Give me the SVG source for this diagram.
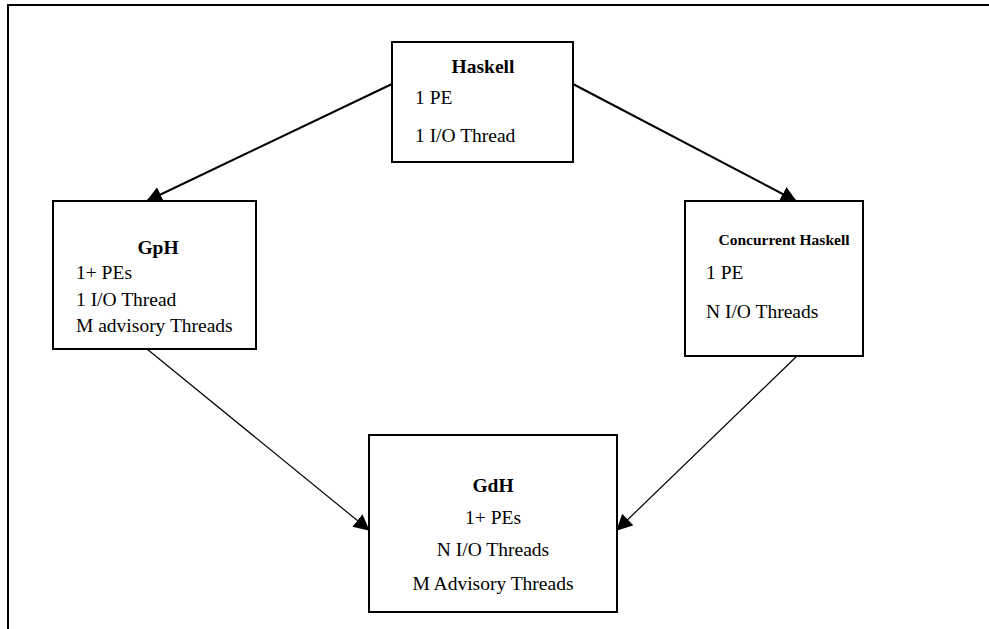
<svg xmlns="http://www.w3.org/2000/svg" width="989" height="629" viewBox="0 0 989 629">
  <style>
    .box { fill: #ffffff; stroke: #000000; stroke-width: 2; }
    .frame { fill: none; stroke: #000000; stroke-width: 2; }
    .title { font-family: "Liberation Serif", "Times New Roman", serif; font-weight: bold; font-size: 19.5px; fill: #000; text-anchor: middle; }
    .title-small { font-family: "Liberation Serif", "Times New Roman", serif; font-weight: bold; font-size: 15.5px; fill: #000; text-anchor: middle; }
    .body { font-family: "Liberation Serif", "Times New Roman", serif; font-size: 19.5px; fill: #000; }
    .body-c { font-family: "Liberation Serif", "Times New Roman", serif; font-size: 19.5px; fill: #000; text-anchor: middle; }
    .edge { fill: none; stroke: #000000; }
    .edge-heavy { stroke-width: 2; }
    .edge-light { stroke-width: 1.2; }
  </style>
  <defs>
    <marker id="arrow" markerUnits="userSpaceOnUse" markerWidth="16" markerHeight="16" viewBox="0 0 16 16" refX="15" refY="8" orient="auto">
      <path d="M0,0 L16,8 L0,16 Z" fill="#000000"/>
    </marker>
  </defs>

  <!-- page frame: top and left rules only -->
  <path class="frame" d="M8,629 L8,5 L989,5"/>

  <!-- connectors -->
  <g id="connectors">
    <line class="edge edge-heavy" x1="392" y1="84" x2="147" y2="201" marker-end="url(#arrow)"/>
    <line class="edge edge-heavy" x1="573" y1="84" x2="796" y2="201" marker-end="url(#arrow)"/>
    <line class="edge edge-light" x1="147" y1="349" x2="369" y2="530" marker-end="url(#arrow)"/>
    <line class="edge edge-light" x1="797" y1="356" x2="617" y2="530" marker-end="url(#arrow)"/>
  </g>

  <!-- Haskell -->
  <g id="haskell">
    <rect class="box" x="392" y="42" width="181" height="120"/>
    <text class="title" x="483" y="73">Haskell</text>
    <text class="body" x="415" y="104">1 PE</text>
    <text class="body" x="415" y="142">1 I/O Thread</text>
  </g>

  <!-- GpH -->
  <g id="gph">
    <rect class="box" x="53" y="201" width="203" height="148"/>
    <text class="title" x="158" y="254">GpH</text>
    <text class="body" x="76" y="279">1+ PEs</text>
    <text class="body" x="76" y="306">1 I/O Thread</text>
    <text class="body" x="76" y="332">M advisory Threads</text>
  </g>

  <!-- Concurrent Haskell -->
  <g id="concurrent-haskell">
    <rect class="box" x="685" y="201" width="178" height="155"/>
    <text class="title-small" x="784" y="245">Concurrent Haskell</text>
    <text class="body" x="706" y="279">1 PE</text>
    <text class="body" x="706" y="318">N I/O Threads</text>
  </g>

  <!-- GdH -->
  <g id="gdh">
    <rect class="box" x="369" y="435" width="248" height="177"/>
    <text class="title" x="493" y="492">GdH</text>
    <text class="body-c" x="493" y="524">1+ PEs</text>
    <text class="body-c" x="493" y="556">N I/O Threads</text>
    <text class="body-c" x="493" y="590">M Advisory Threads</text>
  </g>
</svg>
